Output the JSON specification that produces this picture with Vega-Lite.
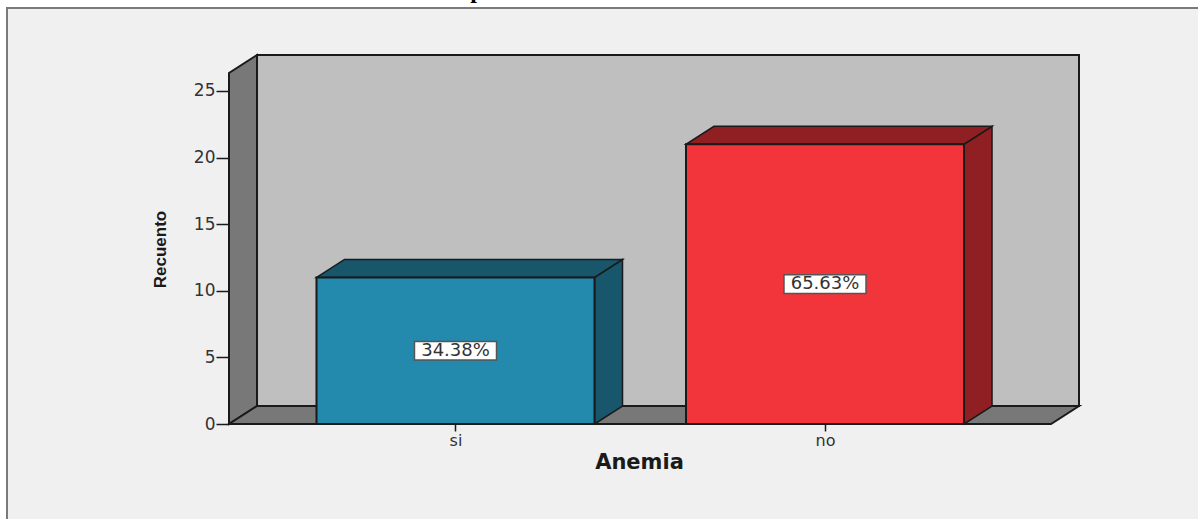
{
  "$schema": "https://vega.github.io/schema/vega-lite/v6.json",
  "width": 850,
  "height": 369,
  "autosize": "none",
  "padding": {"left": 229, "top": 55, "right": 119, "bottom": 95},
  "background": "#ffffff",
  "config": {"view": {"stroke": null}},
  "params": [
    {"name": "semiancho", "value": 0.3762},
    {"name": "dx", "value": 0.0758},
    {"name": "dy", "value": 1.35},
    {"name": "xIni", "value": 0.38701},
    {"name": "xFin", "value": 2.68742},
    {"name": "techo", "value": 27.7}
  ],
  "datasets": {
    "anemia": [
      {"Anemia": "si", "orden": 1, "Recuento": 11, "porcentaje": 0.3438, "frente": "#2389ad", "sombra": "#17566b"},
      {"Anemia": "no", "orden": 2, "Recuento": 21, "porcentaje": 0.6563, "frente": "#f2343b", "sombra": "#8f1f22"}
    ],
    "esquinas": [{"c": 0}, {"c": 1}, {"c": 2}, {"c": 3}],
    "unico": [{"parte": "panel"}]
  },
  "layer": [
    {
      "data": {"name": "unico"},
      "mark": {"type": "rect", "fill": "#f0f0f0", "stroke": "#7a7a7a", "strokeWidth": 2},
      "encoding": {
        "x": {
          "datum": -0.2138,
          "type": "quantitative",
          "scale": {"domain": [0.38701, 2.68742], "nice": false, "zero": false},
          "axis": {
            "values": [1, 2],
            "labelExpr": "datum.value == 1 ? 'si' : 'no'",
            "title": "Anemia",
            "titleFont": "DejaVu Sans",
            "titleFontSize": 21,
            "titleFontWeight": "bold",
            "titleColor": "#1a1a1a",
            "titleX": 410,
            "titleY": 38,
            "titleBaseline": "middle",
            "titleAnchor": "middle",
            "domain": false,
            "grid": false,
            "ticks": true,
            "tickSize": 7,
            "tickWidth": 1.5,
            "tickColor": "#1a1a1a",
            "labelFont": "DejaVu Sans",
            "labelFontSize": 16,
            "labelColor": "#333333",
            "labelPadding": 1,
            "labelAngle": 0,
            "zindex": 1
          }
        },
        "x2": {"datum": 3.042},
        "y": {
          "datum": 31.23,
          "type": "quantitative",
          "scale": {"domain": [0, 27.7], "nice": false, "zero": false},
          "axis": {
            "values": [0, 5, 10, 15, 20, 25],
            "title": "Recuento",
            "titleFont": "Liberation Sans",
            "titleFontSize": 17,
            "titleFontWeight": "bold",
            "titleColor": "#1a1a1a",
            "titleX": -69,
            "titleY": 194,
            "titleBaseline": "middle",
            "titleAnchor": "middle",
            "domain": false,
            "grid": false,
            "tickSize": 13,
            "tickWidth": 1.5,
            "tickColor": "#1a1a1a",
            "labelFont": "DejaVu Sans",
            "labelFontSize": 17,
            "labelColor": "#333333",
            "labelPadding": 1,
            "zindex": 1
          }
        },
        "y2": {"datum": -8}
      }
    },
    {
      "data": {"name": "unico"},
      "mark": {"type": "text", "font": "Liberation Serif", "fontWeight": "bold", "fontSize": 24, "align": "center", "baseline": "alphabetic", "color": "#000000"},
      "encoding": {
        "x": {"datum": 1.058, "type": "quantitative"},
        "y": {"datum": 31.98, "type": "quantitative"},
        "text": {"value": "p"}
      }
    },
    {
      "data": {"name": "unico"},
      "transform": [
        {"calculate": "xIni + dx", "as": "xa"},
        {"calculate": "xFin", "as": "xb"},
        {"calculate": "dy", "as": "ya"},
        {"calculate": "techo", "as": "yb"}
      ],
      "mark": {"type": "rect", "fill": "#bfbfbf", "stroke": "#1a1a1a", "strokeWidth": 2},
      "encoding": {
        "x": {"field": "xa", "type": "quantitative"},
        "x2": {"field": "xb"},
        "y": {"field": "ya", "type": "quantitative"},
        "y2": {"field": "yb"}
      }
    },
    {
      "data": {"name": "esquinas"},
      "transform": [
        {"filter": "datum.c < 2"},
        {"calculate": "xIni + datum.c * dx", "as": "xp"},
        {"calculate": "datum.c * dy", "as": "bajo"},
        {"calculate": "techo - dy + datum.c * dy", "as": "alto"}
      ],
      "mark": {"type": "area", "orient": "vertical", "fill": "#787878", "fillOpacity": 1, "stroke": "#1a1a1a", "strokeWidth": 2},
      "encoding": {
        "x": {"field": "xp", "type": "quantitative"},
        "y": {"field": "bajo", "type": "quantitative"},
        "y2": {"field": "alto"}
      }
    },
    {
      "data": {"name": "esquinas"},
      "transform": [
        {"calculate": "datum.c == 0 ? xIni : datum.c == 1 ? xIni + dx : datum.c == 2 ? xFin - dx : xFin", "as": "xp"},
        {"calculate": "datum.c == 3 ? dy : 0", "as": "bajo"},
        {"calculate": "datum.c == 0 ? 0 : dy", "as": "alto"}
      ],
      "mark": {"type": "area", "orient": "vertical", "fill": "#787878", "fillOpacity": 1, "stroke": "#1a1a1a", "strokeWidth": 2},
      "encoding": {
        "x": {"field": "xp", "type": "quantitative"},
        "y": {"field": "bajo", "type": "quantitative"},
        "y2": {"field": "alto"}
      }
    },
    {
      "data": {"name": "anemia"},
      "transform": [
        {"calculate": "[0, 1]", "as": "c"},
        {"flatten": ["c"]},
        {"calculate": "datum.orden + semiancho + datum.c * dx", "as": "xp"},
        {"calculate": "datum.c * dy", "as": "bajo"},
        {"calculate": "datum.Recuento + datum.c * dy", "as": "alto"}
      ],
      "mark": {"type": "area", "orient": "vertical", "fillOpacity": 1, "stroke": "#1a1a1a", "strokeWidth": 1.5},
      "encoding": {
        "x": {"field": "xp", "type": "quantitative"},
        "y": {"field": "bajo", "type": "quantitative"},
        "y2": {"field": "alto"},
        "detail": {"field": "Anemia"},
        "fill": {"field": "sombra", "type": "nominal", "scale": null}
      }
    },
    {
      "data": {"name": "anemia"},
      "transform": [
        {"calculate": "[0, 1, 2, 3]", "as": "c"},
        {"flatten": ["c"]},
        {"calculate": "datum.orden + (datum.c == 0 ? -semiancho : datum.c == 1 ? dx - semiancho : datum.c == 2 ? semiancho : semiancho + dx)", "as": "xp"},
        {"calculate": "datum.Recuento + (datum.c == 3 ? dy : 0)", "as": "bajo"},
        {"calculate": "datum.Recuento + (datum.c == 0 ? 0 : dy)", "as": "alto"}
      ],
      "mark": {"type": "area", "orient": "vertical", "fillOpacity": 1, "stroke": "#1a1a1a", "strokeWidth": 1.5},
      "encoding": {
        "x": {"field": "xp", "type": "quantitative"},
        "y": {"field": "bajo", "type": "quantitative"},
        "y2": {"field": "alto"},
        "detail": {"field": "Anemia"},
        "fill": {"field": "sombra", "type": "nominal", "scale": null}
      }
    },
    {
      "data": {"name": "anemia"},
      "transform": [
        {"calculate": "datum.orden - semiancho", "as": "xa"},
        {"calculate": "datum.orden + semiancho", "as": "xb"}
      ],
      "mark": {"type": "rect", "stroke": "#1a1a1a", "strokeWidth": 2},
      "encoding": {
        "x": {"field": "xa", "type": "quantitative"},
        "x2": {"field": "xb"},
        "y": {"field": "Recuento", "type": "quantitative"},
        "y2": {"datum": 0},
        "fill": {"field": "frente", "type": "nominal", "scale": null}
      }
    },
    {
      "data": {"name": "anemia"},
      "transform": [
        {"calculate": "datum.orden - 0.111", "as": "xa"},
        {"calculate": "datum.orden + 0.111", "as": "xb"},
        {"calculate": "datum.Recuento / 2 - 0.7", "as": "ya"},
        {"calculate": "datum.Recuento / 2 + 0.7", "as": "yb"}
      ],
      "mark": {"type": "rect", "fill": "#ffffff", "stroke": "#555555", "strokeWidth": 1.5},
      "encoding": {
        "x": {"field": "xa", "type": "quantitative"},
        "x2": {"field": "xb"},
        "y": {"field": "ya", "type": "quantitative"},
        "y2": {"field": "yb"}
      }
    },
    {
      "data": {"name": "anemia"},
      "transform": [{"calculate": "datum.Recuento / 2", "as": "medio"}],
      "mark": {"type": "text", "font": "DejaVu Sans", "fontSize": 18, "color": "#333333", "align": "center", "baseline": "middle"},
      "encoding": {
        "x": {"field": "orden", "type": "quantitative"},
        "y": {"field": "medio", "type": "quantitative"},
        "text": {"field": "porcentaje", "type": "quantitative", "format": ".2%"}
      }
    }
  ]
}
